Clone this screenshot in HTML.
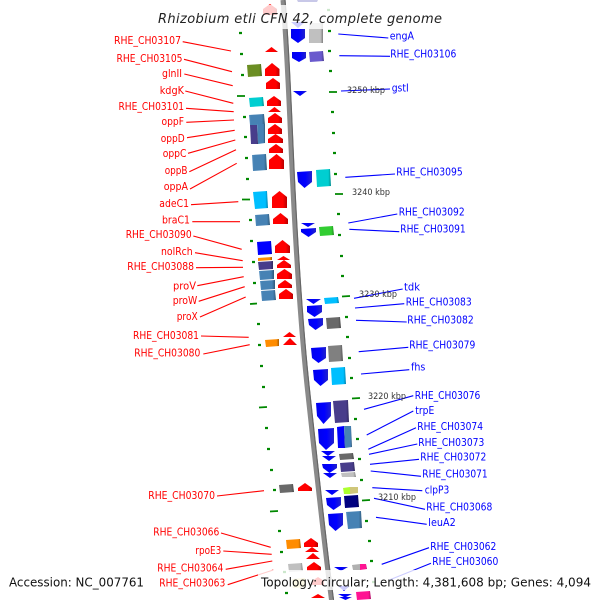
<!DOCTYPE html>
<html>
<head>
<meta charset="utf-8">
<style>
html,body{margin:0;padding:0;background:#fff}
svg{display:block;filter:blur(.3px)}
text{font-family:"DejaVu Sans","Liberation Sans",sans-serif;font-size:11px}
.r text{fill:#f00}
.b text{fill:#00f}
.k text{font-size:8.500px;fill:#333}
</style>
</head>
<body>
<svg width="600" height="600" viewBox="0 0 600 600" xmlns="http://www.w3.org/2000/svg">
<defs>
<linearGradient id="red"><stop offset="0" stop-color="#f00"/><stop offset=".72" stop-color="#f00"/><stop offset="1" stop-color="#b80000"/></linearGradient>
<linearGradient id="blu"><stop offset="0" stop-color="#00e"/><stop offset=".55" stop-color="#00f"/><stop offset="1" stop-color="#22c"/></linearGradient>
<linearGradient id="steel"><stop offset="0" stop-color="#5a94c4"/><stop offset=".12" stop-color="#4682b4"/><stop offset=".8" stop-color="#4682b4"/><stop offset="1" stop-color="#2f5878"/></linearGradient>
<linearGradient id="olive"><stop offset="0" stop-color="#6b8e23"/><stop offset=".82" stop-color="#6b8e23"/><stop offset="1" stop-color="#465e17"/></linearGradient>
<linearGradient id="turq"><stop offset="0" stop-color="#00ced1"/><stop offset=".82" stop-color="#00ced1"/><stop offset="1" stop-color="#008a8c"/></linearGradient>
<linearGradient id="sky"><stop offset="0" stop-color="#00bfff"/><stop offset=".82" stop-color="#00bfff"/><stop offset="1" stop-color="#0080aa"/></linearGradient>
<linearGradient id="dsb"><stop offset="0" stop-color="#483d8b"/><stop offset=".82" stop-color="#483d8b"/><stop offset="1" stop-color="#30295d"/></linearGradient>
<linearGradient id="pure"><stop offset="0" stop-color="#00f"/><stop offset=".85" stop-color="#00f"/><stop offset="1" stop-color="#00a"/></linearGradient>
<linearGradient id="orange"><stop offset="0" stop-color="#ff8c00"/><stop offset=".82" stop-color="#ff8c00"/><stop offset="1" stop-color="#aa5d00"/></linearGradient>
<linearGradient id="dim"><stop offset="0" stop-color="#696969"/><stop offset=".82" stop-color="#696969"/><stop offset="1" stop-color="#464646"/></linearGradient>
<linearGradient id="gray"><stop offset="0" stop-color="#808080"/><stop offset=".82" stop-color="#808080"/><stop offset="1" stop-color="#555"/></linearGradient>
<linearGradient id="silver"><stop offset="0" stop-color="#c0c0c0"/><stop offset=".82" stop-color="#c0c0c0"/><stop offset="1" stop-color="#808080"/></linearGradient>
<linearGradient id="slate"><stop offset="0" stop-color="#6a5acd"/><stop offset=".82" stop-color="#6a5acd"/><stop offset="1" stop-color="#473c89"/></linearGradient>
<linearGradient id="lime"><stop offset="0" stop-color="#32cd32"/><stop offset=".82" stop-color="#32cd32"/><stop offset="1" stop-color="#218921"/></linearGradient>
<linearGradient id="navy"><stop offset="0" stop-color="#000080"/><stop offset=".82" stop-color="#000080"/><stop offset="1" stop-color="#000055"/></linearGradient>
<linearGradient id="pink"><stop offset="0" stop-color="#ff1493"/><stop offset=".82" stop-color="#ff1493"/><stop offset="1" stop-color="#aa0d62"/></linearGradient>
</defs>

<!-- backbone -->
<path d="M283 0 C288 60 290 130 293 190 S301 330 307.5 390 S325 550 331.5 600" fill="none" stroke="#8a8a8a" stroke-width="5"/>
<path d="M285 0 C290 60 292 130 295 190 S303 330 309.5 390 S327 550 333.5 600" fill="none" stroke="#666" stroke-width="1.200"/>

<!-- ticks -->
<path fill="none" stroke="#080" stroke-width="2.200" d="
M239 33h3M240 54h3M241 75h3M243 117h3M244 137h3M245 158h3M246 179h3M249 220h3M250 241h3M252 262h3M253 283h3M257 324h3M258 345h3M260 366h3M262 387h3M265 428h3M267 449h3M270 470h3M273 490h3M278 531h3M280 552h3M283 572h3M285 593h3
M327 10h3M328 31h3M328 51h3M329 71h3M331 112h3M332 133h3M333 153h3M334 174h3M337 214h3M338 235h3M340 256h3M341 276h3M345 317h3M346 337h3M348 358h3M350 378h3M354 419h3M356 439h3M358 459h3M360 480h3M365 521h3M368 541h3M370 561h3M372 582h3"/>
<path fill="none" stroke="#080" stroke-width="1.800" d="
M237 96h8M242 199.500h8M250 304l7-.5M259 407.500l8-.5M270 511.500l8-.5
M329 92h8M335 194h8M342 296.500l8-.5M352 398.500l8-.5M362 500.500l8-.5"/>

<!-- red connector lines -->
<g stroke="#f00" stroke-width="1.100" fill="none">
<path d="M182.700 41.700L231 51M184 59.300L232 71.700M184.300 74L232.700 85.700M185.300 91L233.300 103.300M186 108.300L233.700 111.700M186.300 122.300L234 120M187 137.700L234.700 130.300M188 153.300L235.300 140M189.300 171.700L236 149.700M190 189L236.700 163.300M191 204.700L238.300 201.700M192.300 221.700L240 221.700M193.300 236L241.700 249.300M195 252.700L242.700 260.700M196 267.700L243 267.300M197.300 285.700L243.700 276.700M198.700 301.300L244.700 286.700M200 317L245.700 297M201 336L248.700 337.300M203.300 354L249.700 344.700M217 496L264 490.700M221 533L270.700 547.300M223.300 551L271.700 554.300M225.700 569.300L272.300 561M227.700 584.700L273.300 570"/>
</g>
<!-- blue connector lines -->
<g stroke="#00f" stroke-width="1.100" fill="none">
<path d="M338.300 34L388.300 38M339.300 55.700L390 56.300M341 91L390 89M345.300 177.300L395 174M348.300 223L397.300 214M349.300 229.300L399.300 231.700M354 298.300L402.700 289M355 308L404.300 303.700M356 320.300L406.700 322M358.700 351.700L408.300 347.300M361 374L409.300 369.700M364 409.300L413.300 395.700M366.700 435L413.300 411M368.300 449.300L416 427.700M369 454.300L417.300 444M370 464.300L419 459.300M370.700 471L421 476.300M372.300 487.700L422.300 490.700M374 498.300L425 509.300M376 517.300L426.700 524.300M381.700 564.300L429 547.700M389.300 580L431 563.300"/>
</g>

<!-- left blocks -->
<polygon fill="url(#olive)" points="247,65 261,64 262,76 248,77"/>
<polygon fill="url(#turq)" points="249,98 263,97 264,106 250,107"/>
<polygon fill="url(#steel)" points="249,115 264,114 265,125 250,125"/>
<polygon fill="url(#steel)" points="257,124 265,124 265,143 258,144"/>
<polygon fill="url(#dsb)" points="250,125 257,125 258,144 251,144"/>
<polygon fill="url(#steel)" points="252,155 266,154 267,170 253,171"/>
<polygon fill="url(#sky)" points="253,192 267,191 268,208 255,209"/>
<polygon fill="url(#steel)" points="255,215 269,214 270,225 256,226"/>
<polygon fill="url(#pure)" points="257,242 271,241 272,254 258,255"/>
<polygon fill="url(#orange)" points="258,258 272,257 272,260 258,261"/>
<polygon fill="url(#dsb)" points="258,262 273,261 273,269 259,270"/>
<polygon fill="url(#steel)" points="259,271 274,270 274,279 260,280"/>
<polygon fill="url(#steel)" points="260,281 275,280 275,289 261,290"/>
<polygon fill="url(#steel)" points="261,291 275,290 276,300 262,301"/>
<polygon fill="url(#orange)" points="265,340 279,339 279,346 266,347"/>
<polygon fill="url(#dim)" points="279,485 293,484 294,492 280,493"/>
<polygon fill="url(#orange)" points="286,540 300,539 301,548 287,549"/>
<polygon fill="url(#silver)" points="288,564 302,563 303,571 289,572"/>
<polygon fill="#f0e68c" points="292,579 305,578 305,587 293,588"/>

<!-- right blocks -->
<polygon fill="#c8c8e8" points="297,0 318,0 317,2 298,2"/>
<polygon fill="url(#silver)" points="309,23 323,23 323,43 309,43"/>
<polygon fill="url(#slate)" points="309,52 323,51 324,61 310,62"/>
<polygon fill="url(#turq)" points="316,170 330,169 331,186 317,187"/>
<polygon fill="url(#lime)" points="319,227 333,226 334,235 320,236"/>
<polygon fill="url(#sky)" points="324,298 338,297 339,303 325,304"/>
<polygon fill="url(#dim)" points="326,318 340,317 341,328 327,329"/>
<polygon fill="url(#gray)" points="328,346 342,345 343,361 329,362"/>
<polygon fill="url(#sky)" points="331,368 345,367 346,384 332,385"/>
<polygon fill="url(#dsb)" points="333,401 348,400 349,422 335,423"/>
<polygon fill="url(#pure)" points="337,427 344,426 345,448 338,448"/>
<polygon fill="url(#steel)" points="344,426 351,426 352,447 345,448"/>
<polygon fill="url(#dim)" points="339,454 353,453 354,459 340,460"/>
<polygon fill="url(#dsb)" points="340,463 354,462 355,471 341,472"/>
<polygon fill="url(#silver)" points="341,473 355,472 356,477 342,477"/>
<polygon fill="#adff2f" points="343,488 350,487 350,494 344,494"/>
<polygon fill="#cfc67a" points="350,487 358,487 358,493 350,494"/>
<polygon fill="url(#navy)" points="344,496 358,495 359,507 345,508"/>
<polygon fill="url(#steel)" points="346,512 361,511 362,528 348,529"/>
<polygon fill="#b0b0b0" points="352,565 360,564 360,570 353,570"/>
<polygon fill="url(#pink)" points="360,564 366,564 367,569 360,570"/>
<polygon fill="url(#pink)" points="356,592 370,591 371,599 357,600"/>

<!-- red arrows -->
<g fill="url(#red)">
<polygon points="270,4 277,9 277,15 263,15 263,9"/>
<polygon points="271.500,47 278,52 265,52"/>
<polygon points="272,63 279.500,69 279.500,76 265,76 265,69"/>
<polygon points="273,78 280,83 280,89 266,89 266,83"/>
<polygon points="274,96 281,101 281,106 267,106 267,101"/>
<polygon points="274.500,107 281,112 268,112"/>
<polygon points="275,113 282,118 282,123 268,123 268,118"/>
<polygon points="275,124 282,129 282,134 268,134 268,129"/>
<polygon points="275.500,134 283,139 283,143 268,143 268,139"/>
<polygon points="276,144 283,149 283,153 269,153 269,149"/>
<polygon points="276.500,154 284,160 284,169 269,169 269,160"/>
<polygon points="279.500,191 287,197 287,208 272,208 272,197"/>
<polygon points="280.500,213 288,219 288,224 273,224 273,219"/>
<polygon points="282.500,240 290,246 290,253 275,253 275,246"/>
<polygon points="283.500,256 290,260 277,260"/>
<polygon points="284,260 291,265 291,268 277,268 277,265"/>
<polygon points="284.500,269 292,274 292,279 277,279 277,274"/>
<polygon points="285,280 292,285 292,288 278,288 278,285"/>
<polygon points="286,289 293,294 293,299 279,299 279,294"/>
<polygon points="289.500,332 296,337 283,337"/>
<polygon points="290,338 297,345 283,345"/>
<polygon points="305,483 312,488 312,491 298,491 298,488"/>
<polygon points="311,538 318,543 318,547 304,547 304,543"/>
<polygon points="312,547 319,552 305,552"/>
<polygon points="313,553 320,559 306,559"/>
<polygon points="314,562 321,567 321,571 307,571 307,567"/>
<polygon points="318,577 324,581 324,585 312,585 312,581"/>
<polygon points="318,594 325,598 311,598"/>
</g>

<!-- blue arrows -->
<g fill="url(#blu)">
<polygon points="291,22 305,22 298,28"/>
<polygon points="291,29 305,29 305,38 298,43 291,38"/>
<polygon points="292,52 306,52 306,58 299,62 292,58"/>
<polygon points="293,91 307,91 300,96"/>
<polygon points="297,172 312,171 312,182 304.500,188 298,182"/>
<polygon points="301,223 315,223 308,227"/>
<polygon points="301,229 316,228 316,232 308.500,237 301,232"/>
<polygon points="306,299 321,299 313.500,304"/>
<polygon points="307,306 322,305 322,312 314.500,317 307,312"/>
<polygon points="308,319 323,318 323,325 315.500,330 309,325"/>
<polygon points="311,348 326,347 326,358 318.500,363 312,358"/>
<polygon points="313,370 328,369 328,380 320.500,386 314,380"/>
<polygon points="316,403 331,402 331,416 323.500,424 317,416"/>
<polygon points="318,429 334,428 334,443 326,450 319,443"/>
<polygon points="321,451 335,451 328,456"/>
<polygon points="322,456 336,456 329,461"/>
<polygon points="322,464 337,464 337,468 329.500,473 323,468"/>
<polygon points="323,473 337,473 330,478"/>
<polygon points="325,490 339,490 332,495"/>
<polygon points="326,498 341,497 341,505 333.500,510 327,505"/>
<polygon points="328,514 343,513 343,525 335.500,531 329,525"/>
<polygon points="334,567 348,567 341,571"/>
<polygon points="338,586 350,586 344,591"/>
<polygon points="338,594 352,594 345,597.500"/>
<polygon points="339,597 352,597 345.500,600"/>
</g>

<!-- text backgrounds -->
<rect x="155" y="5" width="290" height="24" fill="#fff" fill-opacity=".8"/>
<rect x="5" y="570" width="143" height="20" fill="#fff" fill-opacity=".8"/>
<rect x="258" y="570" width="338" height="20" fill="#fff" fill-opacity=".8"/>

<!-- red labels -->
<g class="r">
<text x="114" y="44" textLength="67" lengthAdjust="spacingAndGlyphs">RHE_CH03107</text>
<text x="116.500" y="62" textLength="66" lengthAdjust="spacingAndGlyphs">RHE_CH03105</text>
<text x="162" y="77" textLength="20" lengthAdjust="spacingAndGlyphs">glnII</text>
<text x="159.700" y="94" textLength="24.300" lengthAdjust="spacingAndGlyphs">kdgK</text>
<text x="118.500" y="110" textLength="65.500" lengthAdjust="spacingAndGlyphs">RHE_CH03101</text>
<text x="161.500" y="125" textLength="22.500" lengthAdjust="spacingAndGlyphs">oppF</text>
<text x="160.700" y="142" textLength="24" lengthAdjust="spacingAndGlyphs">oppD</text>
<text x="162.700" y="157" textLength="23.800" lengthAdjust="spacingAndGlyphs">oppC</text>
<text x="164.700" y="174" textLength="22.800" lengthAdjust="spacingAndGlyphs">oppB</text>
<text x="163.700" y="190" textLength="24.300" lengthAdjust="spacingAndGlyphs">oppA</text>
<text x="159.300" y="207" textLength="29.700" lengthAdjust="spacingAndGlyphs">adeC1</text>
<text x="162" y="223.500" textLength="28" lengthAdjust="spacingAndGlyphs">braC1</text>
<text x="125.700" y="238" textLength="66" lengthAdjust="spacingAndGlyphs">RHE_CH03090</text>
<text x="161" y="255" textLength="31.700" lengthAdjust="spacingAndGlyphs">nolRch</text>
<text x="127.300" y="270" textLength="66.700" lengthAdjust="spacingAndGlyphs">RHE_CH03088</text>
<text x="173" y="289.500" textLength="23" lengthAdjust="spacingAndGlyphs">proV</text>
<text x="172.700" y="304" textLength="24.600" lengthAdjust="spacingAndGlyphs">proW</text>
<text x="176.700" y="320" textLength="21" lengthAdjust="spacingAndGlyphs">proX</text>
<text x="133" y="339" textLength="66" lengthAdjust="spacingAndGlyphs">RHE_CH03081</text>
<text x="134.300" y="356.700" textLength="66" lengthAdjust="spacingAndGlyphs">RHE_CH03080</text>
<text x="148.300" y="499" textLength="66.700" lengthAdjust="spacingAndGlyphs">RHE_CH03070</text>
<text x="153.300" y="535.700" textLength="66" lengthAdjust="spacingAndGlyphs">RHE_CH03066</text>
<text x="195.300" y="554" textLength="26" lengthAdjust="spacingAndGlyphs">rpoE3</text>
<text x="157.300" y="571.700" textLength="66" lengthAdjust="spacingAndGlyphs">RHE_CH03064</text>
<text x="159.300" y="586.700" textLength="66" lengthAdjust="spacingAndGlyphs">RHE_CH03063</text>
</g>

<!-- blue labels -->
<g class="b">
<text x="389.700" y="39.700" textLength="24.300" lengthAdjust="spacingAndGlyphs">engA</text>
<text x="390.300" y="57.700" textLength="66" lengthAdjust="spacingAndGlyphs">RHE_CH03106</text>
<text x="391.700" y="91.700" textLength="17" lengthAdjust="spacingAndGlyphs">gstI</text>
<text x="396.300" y="175.700" textLength="66.400" lengthAdjust="spacingAndGlyphs">RHE_CH03095</text>
<text x="398.700" y="215.700" textLength="66" lengthAdjust="spacingAndGlyphs">RHE_CH03092</text>
<text x="400.300" y="232.700" textLength="65.400" lengthAdjust="spacingAndGlyphs">RHE_CH03091</text>
<text x="404" y="290.700" textLength="16" lengthAdjust="spacingAndGlyphs">tdk</text>
<text x="405.700" y="305.700" textLength="66" lengthAdjust="spacingAndGlyphs">RHE_CH03083</text>
<text x="407.300" y="323.300" textLength="66.400" lengthAdjust="spacingAndGlyphs">RHE_CH03082</text>
<text x="409.300" y="348.300" textLength="66" lengthAdjust="spacingAndGlyphs">RHE_CH03079</text>
<text x="411" y="370.700" textLength="14.300" lengthAdjust="spacingAndGlyphs">fhs</text>
<text x="414.700" y="399" textLength="65.600" lengthAdjust="spacingAndGlyphs">RHE_CH03076</text>
<text x="415.300" y="414" textLength="19" lengthAdjust="spacingAndGlyphs">trpE</text>
<text x="417.300" y="430" textLength="65.700" lengthAdjust="spacingAndGlyphs">RHE_CH03074</text>
<text x="418.300" y="446" textLength="66" lengthAdjust="spacingAndGlyphs">RHE_CH03073</text>
<text x="420.300" y="460.700" textLength="66" lengthAdjust="spacingAndGlyphs">RHE_CH03072</text>
<text x="422.300" y="477.700" textLength="65.400" lengthAdjust="spacingAndGlyphs">RHE_CH03071</text>
<text x="424.700" y="493.300" textLength="24.600" lengthAdjust="spacingAndGlyphs">clpP3</text>
<text x="426.300" y="510.300" textLength="66" lengthAdjust="spacingAndGlyphs">RHE_CH03068</text>
<text x="428.300" y="526" textLength="27.400" lengthAdjust="spacingAndGlyphs">leuA2</text>
<text x="430.300" y="550" textLength="66" lengthAdjust="spacingAndGlyphs">RHE_CH03062</text>
<text x="432.300" y="565" textLength="66" lengthAdjust="spacingAndGlyphs">RHE_CH03060</text>
</g>

<!-- kbp labels -->
<g class="k">
<text x="347" y="93" textLength="38" lengthAdjust="spacingAndGlyphs">3250 kbp</text>
<text x="352" y="195" textLength="38" lengthAdjust="spacingAndGlyphs">3240 kbp</text>
<text x="359" y="297" textLength="38" lengthAdjust="spacingAndGlyphs">3230 kbp</text>
<text x="368" y="399" textLength="38" lengthAdjust="spacingAndGlyphs">3220 kbp</text>
<text x="378" y="500" textLength="38" lengthAdjust="spacingAndGlyphs">3210 kbp</text>
</g>

<!-- title & footer -->
<text x="158" y="23" textLength="284" style="font-size:13px;font-style:italic;fill:#222">Rhizobium etli CFN 42, complete genome</text>
<text x="9" y="586.500" textLength="135" lengthAdjust="spacingAndGlyphs" style="font-size:12px;fill:#111">Accession: NC_007761</text>
<text x="261" y="586.500" textLength="330" lengthAdjust="spacingAndGlyphs" style="font-size:12px;fill:#111">Topology: circular; Length: 4,381,608 bp; Genes: 4,094</text>
</svg>
</body>
</html>
